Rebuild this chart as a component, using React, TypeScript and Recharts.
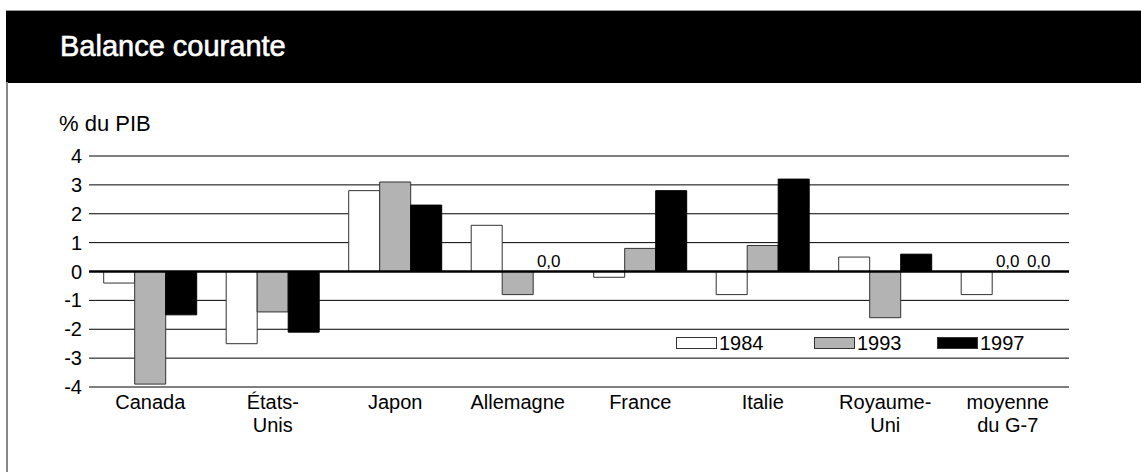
import { BarChart, Bar, XAxis, YAxis, CartesianGrid, ReferenceLine, Rectangle } from 'recharts';

const categories = ['Canada', 'États-Unis', 'Japon', 'Allemagne', 'France', 'Italie', 'Royaume-Uni', 'moyenne du G-7'];
const tickLines = [['Canada'], ['États-', 'Unis'], ['Japon'], ['Allemagne'], ['France'], ['Italie'], ['Royaume-', 'Uni'], ['moyenne', 'du G-7']];
const y1984 = [-0.4, -2.5, 2.8, 1.6, -0.2, -0.8, 0.5, -0.8];
const y1993 = [-3.9, -1.4, 3.1, -0.8, 0.8, 0.9, -1.6, 0.0];
const y1997 = [-1.5, -2.1, 2.3, 0.0, 2.8, 3.2, 0.6, 0.0];
const yTicks = [-4, -3, -2, -1, 0, 1, 2, 3, 4];

const series = [
  { key: 'y1984', label: '1984', fill: '#ffffff', stroke: '#333' },
  { key: 'y1993', label: '1993', fill: '#b3b3b3', stroke: '#333' },
  { key: 'y1997', label: '1997', fill: '#000000', stroke: '#000' },
];
const legendWidths = [138, 123, 110];

const data = categories.map((c, i) => ({ name: c, y1984: y1984[i], y1993: y1993[i], y1997: y1997[i] }));

const FONT = "'Liberation Sans', Arial, sans-serif";

function XTick(props: any) {
  const { x, y, index } = props;
  const lines = tickLines[index] || [];
  return (
    <text x={x} y={y} textAnchor="middle" fontFamily={FONT} fontSize={20} fill="#000">
      {lines.map((l, i) => (
        <tspan key={i} x={x} dy={i === 0 ? 22 : 23}>
          {l}
        </tspan>
      ))}
    </text>
  );
}

// bar shape that also writes "0,0" above zero values
function BarShape(props: any) {
  const { x, y, width, height, value } = props;
  const v = Array.isArray(value) ? value[1] - value[0] : value;
  if (v === 0) {
    return (
      <text x={x + width / 2} y={y - 5} textAnchor="middle" fontFamily={FONT} fontSize={17} fill="#000">
        0,0
      </text>
    );
  }
  return <Rectangle {...props} x={x} y={y} width={width} height={height} />;
}

export default function App() {
  return (
    <div style={{ position: 'absolute', left: 0, top: 0, width: 1141, height: 472, background: '#fff', overflow: 'hidden' }}>
      <div style={{ position: 'absolute', left: 6, top: 10, width: 1135, height: 72, background: '#000', borderTop: '1px solid #999' }} />
      <div style={{ position: 'absolute', left: 6, top: 82, width: 2, height: 390, background: '#888' }} />
      <div
        style={{
          position: 'absolute',
          left: 60,
          top: 26,
          color: '#fff',
          fontFamily: FONT,
          fontSize: 29,
          lineHeight: '40px',
          WebkitTextStroke: '0.6px #fff',
        }}
      >
        Balance courante
      </div>
      <div style={{ position: 'absolute', left: 59, top: 110, color: '#000', fontFamily: FONT, fontSize: 22, lineHeight: '28px' }}>
        % du PIB
      </div>
      <div style={{ position: 'absolute', left: 0, top: 0 }}>
        <BarChart
          width={1141}
          height={472}
          data={data}
          margin={{ top: 156, right: 72, bottom: 35, left: 29 }}
          barCategoryGap="12%"
          barGap={0}
        >
          <CartesianGrid vertical={false} stroke="#000" strokeWidth={1} />
          <XAxis
            dataKey="name"
            axisLine={false}
            tickLine={false}
            tickSize={0}
            tickMargin={0}
            tick={<XTick />}
            interval={0}
            height={50}
          />
          <YAxis
            domain={[-4, 4]}
            ticks={yTicks}
            axisLine={false}
            tickLine={false}
            tickSize={0}
            tickMargin={7}
            width={60}
            tick={{ fontFamily: FONT, fontSize: 20, fill: '#000' }}
            interval={0}
          />
          {series.map((s) => (
            <Bar
              key={s.key}
              dataKey={s.key}
              name={s.label}
              fill={s.fill}
              stroke={s.stroke}
              strokeWidth={1}
              shape={<BarShape />}
              isAnimationActive={false}
            />
          ))}
          <ReferenceLine y={0} stroke="#000" strokeWidth={2.5} />
        </BarChart>
      </div>
      <div style={{ position: 'absolute', left: 676, top: 331, display: 'flex', fontFamily: FONT, fontSize: 20, lineHeight: '24px' }}>
        {series.map((s, i) => (
          <div key={s.key} style={{ display: 'flex', alignItems: 'center', width: legendWidths[i] }}>
            <span
              style={{
                display: 'inline-block',
                width: 39,
                height: 10,
                background: s.fill,
                border: '1px solid #333',
                marginRight: 2,
              }}
            />
            <span>{s.label}</span>
          </div>
        ))}
      </div>
    </div>
  );
}
